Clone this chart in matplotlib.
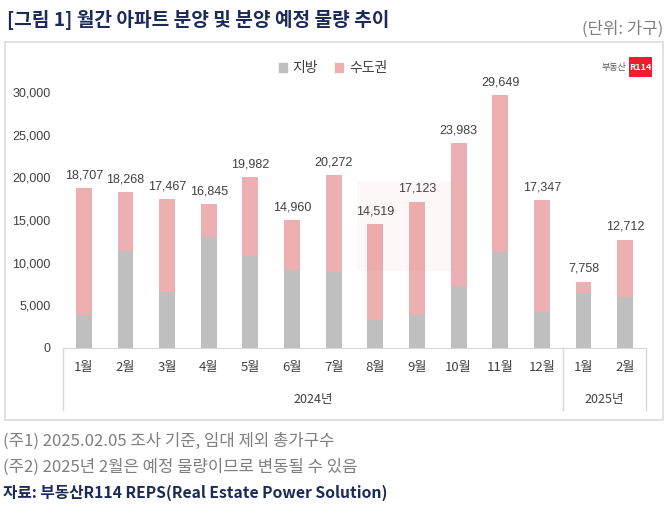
import matplotlib
matplotlib.use("Agg")
import matplotlib.pyplot as plt
from matplotlib.patches import Rectangle, Patch
from matplotlib.lines import Line2D

plt.rcParams['font.family'] = ['Noto Sans CJK KR', 'DejaVu Sans']

# data (가구)
months = ['1월', '2월', '3월', '4월', '5월', '6월', '7월', '8월', '9월', '10월', '11월', '12월', '1월', '2월']
years = ['2024년', '2025년']
totals = [18707, 18268, 17467, 16845, 19982, 14960, 20272, 14519, 17123, 23983, 29649, 17347, 7758, 12712]
local = [3900, 11400, 6600, 13000, 10800, 9100, 8900, 3300, 3900, 7300, 11200, 4200, 6500, 6000]
capital = [t - l for t, l in zip(totals, local)]

grey = '#bfbfbf'
pink = '#edb0b2'
navy = '#1b2a57'

fig = plt.figure(figsize=(6.7, 5.11), dpi=100)
W, H = 670, 511

def fx(px):
    return px / W

def fy(py):
    return 1 - py / H

# outer frame
fig.patches.append(Rectangle((fx(5), fy(420)), fx(663) - fx(5), fy(42) - fy(420),
                             transform=fig.transFigure, fill=False, edgecolor='#dcdcdc', lw=1.2))

# faint watermark box
fig.patches.append(Rectangle((fx(357), fy(271)), fx(452) - fx(357), fy(181) - fy(271),
                             transform=fig.transFigure, facecolor='#e8404a', alpha=0.04, lw=0, zorder=0))

ax = fig.add_axes([fx(63), fy(348), fx(646) - fx(63), fy(92) - fy(348)])
ax.patch.set_alpha(0)
x = list(range(len(months)))
ax.bar(x, local, width=0.38, color=grey, zorder=2)
ax.bar(x, capital, width=0.38, bottom=local, color=pink, zorder=2)

for xi, t in zip(x, totals):
    ax.annotate(f'{t:,}', (xi, t), xytext=(0, 5), textcoords='offset points',
                ha='center', va='bottom', fontsize=9, color='#404040',
                family=['Liberation Sans', 'DejaVu Sans'], annotation_clip=False)

ax.set_xlim(-0.5, len(months) - 0.5)
ax.set_ylim(0, 30000)
ax.set_yticks(range(0, 30001, 5000))
ax.set_yticklabels([f'{v:,}' for v in range(0, 30001, 5000)],
                   fontsize=9, color='#404040', family=['Liberation Sans', 'DejaVu Sans'])
ax.tick_params(axis='y', length=0, pad=9)
ax.set_xticks([])
for s in ['top', 'right', 'left']:
    ax.spines[s].set_visible(False)
ax.spines['bottom'].set_color('#d9d9d9')

# category table under the axis
tr = ax.get_xaxis_transform()
for xv in [-0.5, 11.5, len(months) - 0.5]:
    ax.add_line(Line2D([xv, xv], [0, -62 / 256], transform=tr, color='#d9d9d9',
                       lw=1, clip_on=False))
for xi, m in zip(x, months):
    ax.text(xi, -20 / 256, m, transform=tr, ha='center', va='center',
            fontsize=9.5, color='#404040')
ax.text(5.5, -52 / 256, years[0], transform=tr, ha='center', va='center',
        fontsize=9, color='#404040')
ax.text(12.5, -52 / 256, years[1], transform=tr, ha='center', va='center',
        fontsize=9, color='#404040')

# legend
handles = [Patch(color=grey, label='지방'), Patch(color=pink, label='수도권')]
fig.legend(handles=handles, loc='center', bbox_to_anchor=(fx(333), fy(68)), ncol=2,
           frameon=False, fontsize=10, handlelength=0.6, handleheight=0.6,
           handletextpad=0.4, columnspacing=1.2, labelcolor='#404040')

# logo
fig.text(fx(626), fy(67), '부동산', fontsize=6.5, color='#555555', ha='right', va='center')
fig.patches.append(Rectangle((fx(629), fy(77)), fx(652) - fx(629), fy(57) - fy(77),
                             transform=fig.transFigure, facecolor='#e8202e', lw=0))
fig.text(fx(640.5), fy(67), 'R114', fontsize=6.5, color='white', ha='center', va='center',
         fontweight='bold')

# title and notes
fig.text(fx(7), fy(20), '[그림 1] 월간 아파트 분양 및 분양 예정 물량 추이', fontsize=13.8,
         fontweight='bold', color=navy, ha='left', va='center')
fig.text(fx(663), fy(29), '(단위: 가구)', fontsize=12, color='#7f7f7f', ha='right', va='center')
fig.text(fx(3), fy(441), '(주1) 2025.02.05 조사 기준, 임대 제외 총가구수', fontsize=12,
         color='#7f7f7f', ha='left', va='center')
fig.text(fx(3), fy(467), '(주2) 2025년 2월은 예정 물량이므로 변동될 수 있음', fontsize=12,
         color='#7f7f7f', ha='left', va='center')
fig.text(fx(3), fy(493), '자료: 부동산R114 REPS(Real Estate Power Solution)', fontsize=11.3,
         fontweight='bold', color=navy, ha='left', va='center')

fig.savefig('out.png', dpi=100)
